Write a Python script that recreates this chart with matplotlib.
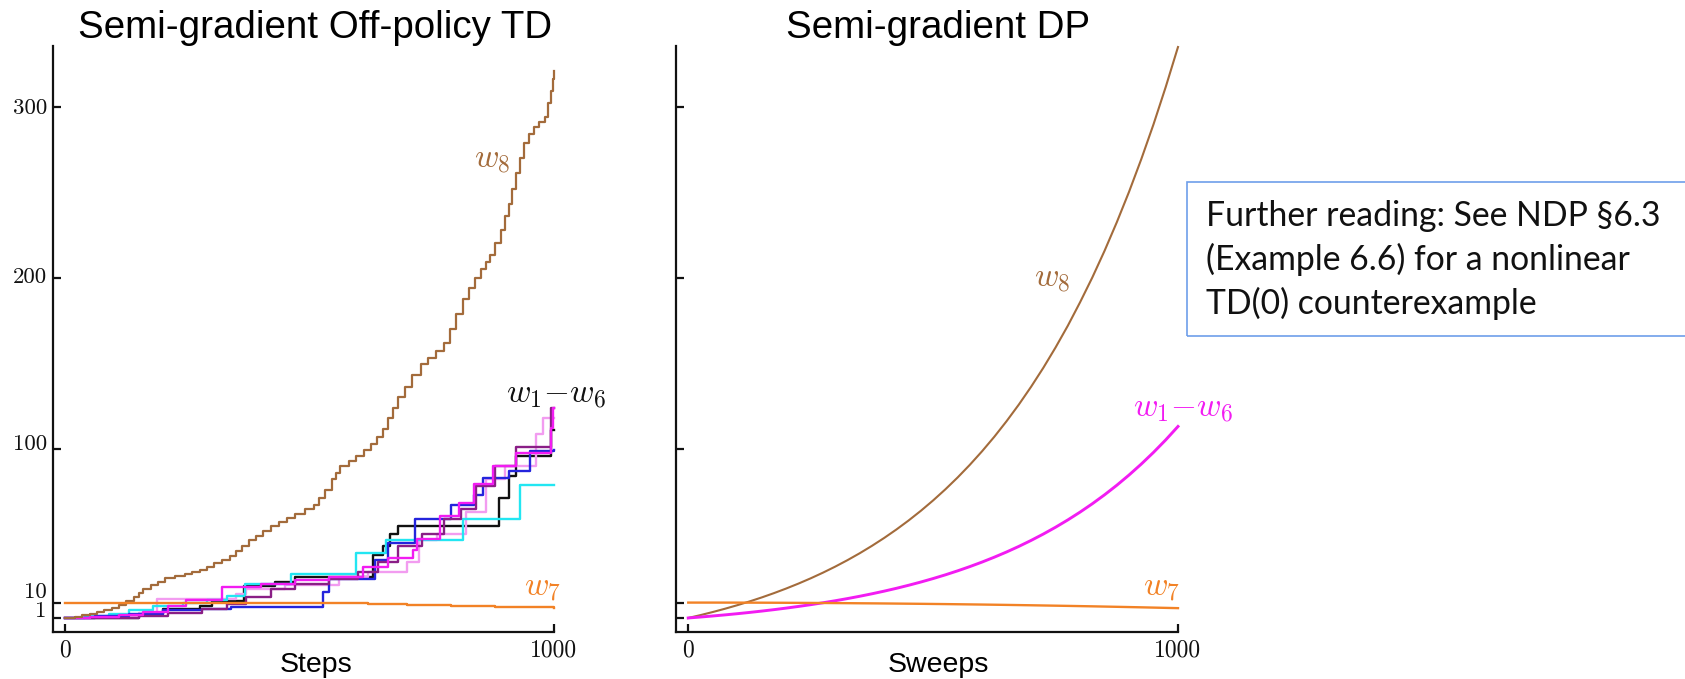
import matplotlib
matplotlib.use('Agg')
import matplotlib.pyplot as plt
from matplotlib.patches import Rectangle
from matplotlib.transforms import ScaledTranslation

# ---------------- data ----------------
# Semi-gradient off-policy TD (step traces)
w8_td_t = [0, 20, 35, 50, 65, 80, 95, 110, 125, 140, 150, 160, 175, 190, 205, 225, 245, 260, 275, 290,
           305, 320, 337, 350, 362, 376, 390, 405, 420, 437, 454, 470, 490, 509, 520, 532, 545, 555, 563,
           580, 595, 611, 625, 638, 650, 660, 670, 681, 695, 710, 728, 742, 758, 775, 788, 800, 814, 826,
           838, 850, 860, 869, 880, 892, 900, 908, 915, 923, 931, 939, 948, 959, 970, 982, 988, 994, 998, 1000]
w8_td_v = [1, 1.8, 2.6, 3.4, 4.4, 5.5, 7, 8.6, 11, 13.5, 15.5, 18, 20, 22, 24.5, 25.5, 27, 28, 29, 31,
           33, 35, 37, 40, 43, 46.5, 49, 52, 55, 57, 59.5, 62, 64.5, 67, 71, 76, 82, 86, 90,
           93, 96, 99, 103, 107, 111.5, 118, 124, 130, 136, 143, 149.5, 153, 157, 162, 170, 179, 187.5, 194,
           200, 205, 209, 213, 220, 228, 236, 243, 252, 261, 270, 279, 284, 288, 291, 294, 302, 309, 316, 321]

w7_td_t = [0, 350, 520, 620, 700, 790, 880, 1000]
w7_td_v = [10, 9.9, 9.6, 9.2, 8.8, 8.0, 7.5, 6.8]

blk_t = [0, 150, 200, 275, 300, 365, 430, 470, 630, 650, 665, 680, 888, 908, 923, 993, 1000]
blk_v = [1, 3.5, 6.5, 8, 11, 19.5, 22, 25, 38, 43, 50, 55, 71, 84, 96, 111, 111]

blu_t = [0, 60, 130, 200, 280, 340, 528, 540, 634, 660, 716, 790, 837, 855, 908, 951, 1000]
blu_v = [1, 2, 3.5, 5.5, 6.5, 7.2, 16.4, 24, 35, 45, 58.6, 67, 73, 83, 87, 98.6, 99]

cyn_t = [0, 40, 90, 130, 180, 240, 290, 330, 368, 462, 595, 657, 814, 931, 1000]
cyn_v = [1, 2, 3.5, 5.5, 8, 9.5, 11.5, 14, 21, 27, 39, 46.6, 59, 79, 79]

mag_t = [0, 50, 110, 160, 211, 247, 321, 400, 470, 540, 610, 660, 712, 720, 767, 806, 837, 876, 923, 994, 998, 1000]
mag_v = [1, 1.8, 3, 4.5, 8, 11.5, 19, 21, 23, 25, 31, 36, 41, 47, 60.6, 68, 79.6, 89.8, 97.4, 112, 124, 124]

pnk_t = [0, 50, 150, 188, 350, 370, 450, 560, 620, 700, 724, 760, 820, 860, 900, 963, 978, 1000]
pnk_v = [1, 1.3, 4, 12, 15, 18, 20, 25, 28, 34, 46.6, 50, 63, 82, 90, 108.8, 117.7, 117.7]

pur_t = [0, 150, 210, 280, 330, 370, 420, 470, 540, 600, 640, 680, 730, 775, 810, 840, 880, 923, 994, 1000]
pur_v = [1, 2, 4, 6, 9, 13, 18, 21, 24, 28, 34, 43, 50, 59, 65, 78, 90, 101, 124, 124]

# Semi-gradient DP (smooth traces, read every 25 sweeps)
sweeps = [0, 25, 50, 75, 100, 125, 150, 175, 200, 225, 250, 275, 300, 325, 350, 375, 400, 425, 450, 475,
          500, 525, 550, 575, 600, 625, 650, 675, 700, 725, 750, 775, 800, 825, 850, 875, 900, 925, 950, 975, 1000]
w8_dp = [1, 2.68, 4.48, 6.40, 8.46, 10.66, 13.01, 15.53, 18.23, 21.11, 24.19, 27.49, 31.02, 34.80, 38.84,
         43.17, 47.79, 52.74, 58.03, 63.69, 69.75, 76.23, 83.16, 90.58, 98.52, 107.0, 116.1, 125.8, 136.2,
         147.3, 159.2, 171.9, 185.6, 200.1, 215.7, 232.4, 250.2, 269.3, 289.7, 311.6, 334.9]
w16_dp = [1, 1.56, 2.17, 2.81, 3.50, 4.24, 5.03, 5.87, 6.78, 7.75, 8.78, 9.89, 11.07, 12.34, 13.69, 15.14,
          16.69, 18.35, 20.13, 22.03, 24.06, 26.23, 28.56, 31.05, 33.71, 36.56, 39.60, 42.86, 46.35, 50.08,
          54.07, 58.34, 62.91, 67.79, 73.02, 78.61, 84.60, 91.00, 97.85, 105.17, 113.01]
w7_dp = [10, 10, 10, 9.99, 9.98, 9.96, 9.94, 9.91, 9.88, 9.84, 9.8, 9.76, 9.71, 9.66, 9.6, 9.55, 9.49, 9.42,
         9.35, 9.28, 9.2, 9.12, 9.03, 8.94, 8.85, 8.75, 8.65, 8.54, 8.43, 8.31, 8.19, 8.07, 7.94, 7.81, 7.67,
         7.53, 7.38, 7.23, 7.07, 6.91, 6.75]

y_ticks = [1, 10, 100, 200, 300]
y_ticklabels = ['1', '10', '100', '200', '300']
x_ticks = [0, 1000]
x_ticklabels = ['0', '1000']

# ---------------- style ----------------
BROWN = '#A36B3B'
ORANGE = '#F28226'
BLACK = '#111111'
BLUE = '#2424DC'
CYAN = '#22E6F2'
MAGENTA = '#F21CF2'
PINK = '#F29CF0'
PURPLE = '#8A1E86'

plt.rcParams['mathtext.fontset'] = 'cm'

W, H = 1685, 679
fig = plt.figure(figsize=(W / 100, H / 100), dpi=100)


def rect(x0, x1, y0, y1):
    return [x0 / W, 1 - y1 / H, (x1 - x0) / W, (y1 - y0) / H]


def fx(x):
    return x / W


def fy(y):
    return 1 - y / H


axL = fig.add_axes(rect(53, 554, 46, 632))
axR = fig.add_axes(rect(676, 1178, 46, 632))

for ax in (axL, axR):
    ax.set_xlim(-25, 1000)
    ax.set_ylim(-7.2, 335.5)
    for s in ('top', 'right'):
        ax.spines[s].set_visible(False)
    for s in ('left', 'bottom'):
        ax.spines[s].set_linewidth(1.6)
        ax.spines[s].set_color('#111111')
    ax.set_xticks(x_ticks)
    ax.set_yticks(y_ticks)
    ax.tick_params(direction='in', length=6, width=1.6, colors='#111111')
    ax.set_xticklabels(x_ticklabels, fontfamily='cmr10', fontsize=17)
    ax.tick_params(axis='x', pad=5)
    ax.tick_params(axis='y', pad=4.5)

axL.set_yticklabels(y_ticklabels, fontfamily='cmr10', fontsize=16.5)
axR.set_yticklabels([])

# left panel
lw = 1.7
for t, v, c in [(blk_t, blk_v, BLACK), (pnk_t, pnk_v, PINK), (cyn_t, cyn_v, CYAN),
                (blu_t, blu_v, BLUE), (pur_t, pur_v, PURPLE), (mag_t, mag_v, MAGENTA)]:
    axL.step(t, v, where='post', color=c, lw=lw, clip_on=False)
axL.step(w8_td_t, w8_td_v, where='post', color=BROWN, lw=1.6, clip_on=False)
axL.step(w7_td_t, w7_td_v, where='post', color=ORANGE, lw=1.7, clip_on=False)

# right panel
axR.plot(sweeps, w8_dp, color=BROWN, lw=1.5, clip_on=False)
axR.plot(sweeps, w16_dp, color=MAGENTA, lw=2.1, clip_on=False)
axR.plot(sweeps, w7_dp, color=ORANGE, lw=1.7, clip_on=False)

# curve labels
axL.text(873, 270, r'$w_8$', color=BROWN, fontsize=24, ha='center', va='center')
axL.text(1004, 132, r'$w_1{-}w_6$', color=BLACK, fontsize=24, ha='center', va='center', clip_on=False)
axL.text(976, 19.5, r'$w_7$', color=ORANGE, fontsize=24, ha='center', va='center')
axR.text(743, 200, r'$w_8$', color=BROWN, fontsize=24, ha='center', va='center')
axR.text(1010, 124, r'$w_1{-}w_6$', color=MAGENTA, fontsize=24, ha='center', va='center', clip_on=False)
axR.text(967, 19.5, r'$w_7$', color=ORANGE, fontsize=24, ha='center', va='center')

# shift y tick labels like the reference (px, upward)
offsets = {1: 9, 10: 12, 100: 6.5, 200: 2, 300: 0}
for tick, val in zip(axL.yaxis.get_major_ticks(), y_ticks):
    dy = offsets[val] / 100.0
    tick.label1.set_transform(tick.label1.get_transform() + ScaledTranslation(0, dy, fig.dpi_scale_trans))

# titles and axis labels
fig.text(fx(315.5), fy(38.5), 'Semi-gradient Off-policy TD', fontfamily='Liberation Sans', fontsize=27.7,
         ha='center', va='baseline')
fig.text(fx(938.5), fy(38.5), 'Semi-gradient DP', fontfamily='Liberation Sans', fontsize=27.7,
         ha='center', va='baseline')
fig.text(fx(315.7), fy(672), 'Steps', fontfamily='Liberation Sans', fontsize=20.5, ha='center', va='baseline')
fig.text(fx(938.6), fy(672), 'Sweeps', fontfamily='Liberation Sans', fontsize=20.5, ha='center', va='baseline')

# note box (right edge runs off the canvas)
fig.patches.append(Rectangle((fx(1187), fy(336)), fx(1695) - fx(1187), fy(182) - fy(336),
                             transform=fig.transFigure, fill=False, edgecolor='#6E9EEA', lw=1.2,
                             clip_on=False))
note_lines = ['Further reading: See NDP §6.3', '(Example 6.6) for a nonlinear', 'TD(0) counterexample']
for i, line in enumerate(note_lines):
    fig.text(fx(1206), fy(226 + 44 * i), line, fontfamily='Lato', fontsize=24.3, ha='left', va='baseline',
             color='#111111')

fig.savefig('out.png', dpi=100)
